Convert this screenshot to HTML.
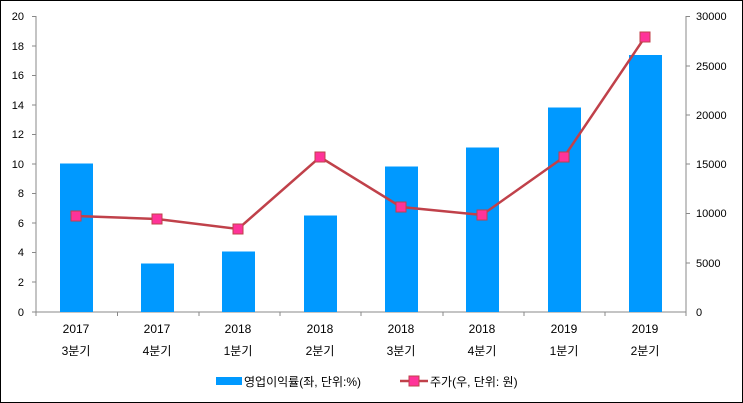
<!DOCTYPE html>
<html><head><meta charset="utf-8"><style>
body{margin:0;background:#fff}
svg{display:block;font-family:"Liberation Sans","Noto Sans CJK KR",sans-serif}
</style></head><body>
<svg width="743" height="403" viewBox="0 0 743 403">
<rect x="0.5" y="0.5" width="742" height="402" fill="#fff" stroke="#000"/>
<g stroke="#888" stroke-width="1">
<line x1="36" y1="16" x2="36" y2="312"/>
<line x1="686" y1="16" x2="686" y2="312"/>
<line x1="36" y1="312" x2="686" y2="312"/>
</g>
<g stroke="#888">
<line x1="32" y1="16.5" x2="36" y2="16.5"/><line x1="32" y1="46" x2="36" y2="46"/><line x1="32" y1="75.5" x2="36" y2="75.5"/><line x1="32" y1="105" x2="36" y2="105"/><line x1="32" y1="134.5" x2="36" y2="134.5"/><line x1="32" y1="164" x2="36" y2="164"/><line x1="32" y1="193.5" x2="36" y2="193.5"/><line x1="32" y1="223" x2="36" y2="223"/><line x1="32" y1="252.5" x2="36" y2="252.5"/><line x1="32" y1="282" x2="36" y2="282"/><line x1="32" y1="312" x2="36" y2="312"/>
<line x1="686" y1="16.5" x2="690" y2="16.5"/><line x1="686" y1="66" x2="690" y2="66"/><line x1="686" y1="115" x2="690" y2="115"/><line x1="686" y1="164" x2="690" y2="164"/><line x1="686" y1="213.5" x2="690" y2="213.5"/><line x1="686" y1="263" x2="690" y2="263"/>
<line x1="117.5" y1="312" x2="117.5" y2="316"/><line x1="199" y1="312" x2="199" y2="316"/><line x1="280" y1="312" x2="280" y2="316"/><line x1="361" y1="312" x2="361" y2="316"/><line x1="443" y1="312" x2="443" y2="316"/><line x1="524" y1="312" x2="524" y2="316"/><line x1="605" y1="312" x2="605" y2="316"/><line x1="36" y1="312" x2="36" y2="316"/><line x1="686" y1="312" x2="686" y2="316"/>
</g>
<g font-size="11" fill="#000" text-anchor="end">
<text x="24" y="20">20</text><text x="24" y="50">18</text><text x="24" y="79">16</text><text x="24" y="109">14</text><text x="24" y="138">12</text><text x="24" y="168">10</text><text x="24" y="197">8</text><text x="24" y="227">6</text><text x="24" y="256">4</text><text x="24" y="286">2</text><text x="24" y="316">0</text>
</g>
<g font-size="11" fill="#000">
<text x="696" y="20">30000</text><text x="696" y="70">25000</text><text x="696" y="119">20000</text><text x="696" y="168">15000</text><text x="696" y="217">10000</text><text x="696" y="267">5000</text><text x="696" y="316">0</text>
</g>
<g fill="#0099ff">
<rect x="60" y="163.5" width="33" height="148.5"/>
<rect x="141" y="263.5" width="33" height="48.5"/>
<rect x="222" y="251.5" width="33" height="60.5"/>
<rect x="304" y="215.5" width="33" height="96.5"/>
<rect x="385" y="166.5" width="33" height="145.5"/>
<rect x="466" y="147.5" width="33" height="164.5"/>
<rect x="548" y="107.5" width="33" height="204.5"/>
<rect x="629" y="55" width="33" height="257"/>
</g>
<polyline fill="none" stroke="#c0414a" stroke-width="2.5" points="76,216 157,219 238,229 320,157 401,207 482,215 564,157 645,37"/>
<g fill="#ff3399" stroke="#c0414a" stroke-width="1">
<rect x="71" y="211" width="10" height="10"/><rect x="152" y="214" width="10" height="10"/><rect x="233" y="224" width="10" height="10"/><rect x="315" y="152" width="10" height="10"/><rect x="396" y="202" width="10" height="10"/><rect x="477" y="210" width="10" height="10"/><rect x="559" y="152" width="10" height="10"/><rect x="640" y="32" width="10" height="10"/>
</g>
<g font-size="12" fill="#000" text-anchor="middle">
<text x="76" y="333">2017</text><text x="157" y="333">2017</text><text x="238" y="333">2018</text><text x="320" y="333">2018</text><text x="401" y="333">2018</text><text x="482" y="333">2018</text><text x="564" y="333">2019</text><text x="645" y="333">2019</text>
<text x="76" y="355">3분기</text><text x="157" y="355">4분기</text><text x="238" y="355">1분기</text><text x="320" y="355">2분기</text><text x="401" y="355">3분기</text><text x="482" y="355">4분기</text><text x="564" y="355">1분기</text><text x="645" y="355">2분기</text>
</g>
<rect x="216" y="377" width="26" height="8" fill="#0099ff"/>
<text x="244" y="386" font-size="12">영업이익률(좌, 단위:%)</text>
<line x1="400" y1="381" x2="428" y2="381" stroke="#c0414a" stroke-width="2.5"/>
<rect x="409" y="376" width="10" height="10" fill="#ff3399" stroke="#c0414a"/>
<text x="430" y="386" font-size="12">주가(우, 단위: 원)</text>
</svg>
</body></html>
